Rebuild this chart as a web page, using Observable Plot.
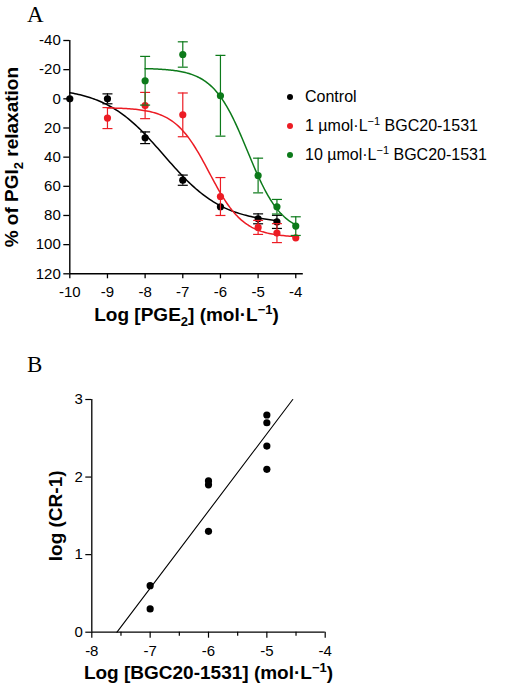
<!DOCTYPE html>
<html>
<head>
<meta charset="utf-8">
<script src="https://cdn.jsdelivr.net/npm/d3@7"></script>
<script src="https://cdn.jsdelivr.net/npm/@observablehq/plot@0.6"></script>
<style>
  html, body { margin: 0; padding: 0; background: #fff; }
  #wrap { position: relative; width: 505px; height: 690px; font-family: "Liberation Sans", Arial, sans-serif; }
  #wrap svg { display: block; }
  .panel-letter { position: absolute; font-family: "Liberation Serif", "Times New Roman", serif; font-size: 23px; line-height: 1; }
  #legend { position: absolute; left: 286px; top: 87px; font-size: 16px; color: #000; }
  #legend .row { position: absolute; left: 0; white-space: nowrap; height: 20px; line-height: 20px; }
  #legend .dot { display: inline-block; width: 6px; height: 6px; border-radius: 50%; position: absolute; left: 1px; top: 7px; }
  #legend .lab { position: absolute; left: 19px; top: 0; }
  #legend sup { font-size: 11px; line-height: 0; vertical-align: 6px; }
</style>
</head>
<body>
<div id="wrap">
  <div class="panel-letter" style="left:27px;top:3px;">A</div>
  <div class="panel-letter" style="left:27px;top:353px;">B</div>
  <div id="chartA"></div>
  <div id="chartB"></div>
  <div id="legend"></div>
</div>
<script>
// ---------- Panel A data ----------
const seriesNames = ["Control", "1 µmol·L⁻¹ BGC20-1531", "10 µmol·L⁻¹ BGC20-1531"];
const seriesColors = ["#000000", "#ec1c24", "#0c7a1a"];

const controlX   = [-10, -9, -8, -7, -6, -5, -4.5];
const controlY   = [0, 0, 26.7, 55.8, 74, 82.3, 84.4];
const controlErr = [0, 3.4, 4, 3.5, 0, 3.4, 4.5];

const bgc1X   = [-9, -8, -7, -6, -5, -4.5, -4];
const bgc1Y   = [13.2, 4.6, 11, 67, 88.2, 92.1, 95.3];
const bgc1Err = [7.2, 9, 15, 13, 4.8, 6.5, 0];

const bgc10X   = [-8, -7, -6, -5, -4.5, -4];
const bgc10Y   = [-12.4, -30.4, -2.1, 52.6, 74, 87.3];
const bgc10Err = [16.7, 8.7, 27.7, 11.9, 5, 6.4];

// fitted sigmoid parameters: [top, bottom, logEC50, hill, xStart, xEnd]
const controlFit = [-8, 85.5, -7.5, 0.55, -10, -4.5];
const bgc1Fit    = [6, 95, -6.3, 0.95, -9, -4];
const bgc10Fit   = [-21, 93, -5.28, 0.95, -8, -4];

const xTicksA = [-10, -9, -8, -7, -6, -5, -4];
const yTicksA = [-40, -20, 0, 20, 40, 60, 80, 100, 120];

// ---------- Panel B data ----------
const schildX = [-7, -7, -6, -6, -6, -5, -5, -5, -5];
const schildY = [0.6, 0.3, 1.95, 1.9, 1.3, 2.8, 2.7, 2.4, 2.1];
const xTicksB = [-8, -7, -6, -5, -4];
const xMinorB = [-7.5, -6.5, -5.5, -4.5];
const yTicksB = [0, 1, 2, 3];

// ---------- helpers ----------
const capSymbol = {
  draw(context, size) {
    const w = Math.sqrt(size / Math.PI);
    context.moveTo(-w, 0);
    context.lineTo(w, 0);
  }
};
function pts(xs, ys, es) { return xs.map((x, i) => ({x, y: ys[i], e: es ? es[i] : 0})); }
function curve(fit) {
  const [top, bottom, ec50, h, x0, x1] = fit;
  const n = 120;
  return d3.range(n + 1).map(i => {
    const x = x0 + (x1 - x0) * i / n;
    return {x, y: top + (bottom - top) / (1 + Math.pow(10, h * (ec50 - x)))};
  });
}

const groups = [
  {pts: pts(controlX, controlY, controlErr), fit: controlFit, color: seriesColors[0]},
  {pts: pts(bgc1X, bgc1Y, bgc1Err), fit: bgc1Fit, color: seriesColors[1]},
  {pts: pts(bgc10X, bgc10Y, bgc10Err), fit: bgc10Fit, color: seriesColors[2]}
];

const fontFam = '"Liberation Sans", Arial, sans-serif';
const tickFont = 15;

// ---------- Panel A ----------
const marksA = [
  Plot.ruleX([-10], {stroke: "#000", strokeWidth: 1.4}),
  Plot.ruleY([120], {stroke: "#000", strokeWidth: 1.4}),
  Plot.axisY({ticks: yTicksA, tickSize: 6, tickPadding: 3, label: null, fontSize: tickFont, tickFormat: d => String(d), strokeWidth: 1.3}),
  Plot.axisX({ticks: xTicksA, tickSize: 5, tickPadding: 8, label: null, fontSize: tickFont, tickFormat: d => String(d), strokeWidth: 1.3})
];
for (const g of groups) {
  const withErr = g.pts.filter(d => d.e > 0);
  marksA.push(
    Plot.ruleX(withErr, {x: "x", y1: d => d.y - d.e, y2: d => d.y + d.e, stroke: g.color, strokeWidth: 1.2}),
    Plot.dot(withErr, {x: "x", y: d => d.y - d.e, symbol: capSymbol, r: 5, stroke: g.color, strokeWidth: 1.2, fill: "none"}),
    Plot.dot(withErr, {x: "x", y: d => d.y + d.e, symbol: capSymbol, r: 5, stroke: g.color, strokeWidth: 1.2, fill: "none"}),
    Plot.line(curve(g.fit), {x: "x", y: "y", stroke: g.color, strokeWidth: 1.5, curve: "linear"}),
    Plot.dot(g.pts, {x: "x", y: "y", r: 3.6, fill: g.color, stroke: "none"})
  );
}
marksA.push(
  Plot.text(["YTITLE_A"], {text: d => d, frameAnchor: "left", textAnchor: "middle", dx: -58, rotate: -90, fontSize: 19, fontWeight: "bold", fill: "#000"}),
  Plot.text(["XTITLE_A"], {text: d => d, frameAnchor: "bottom", textAnchor: "middle", dy: 47, fontSize: 19, fontWeight: "bold", fill: "#000"})
);

const plotA = Plot.plot({
  width: 505, height: 345,
  marginLeft: 69.3, marginRight: 202.2, marginTop: 40, marginBottom: 71.7,
  x: {domain: [-10, -3.8]},
  y: {domain: [-40, 120], reverse: true},
  style: {fontFamily: fontFam, fontSize: tickFont + "px", color: "#000", background: "transparent", overflow: "visible"},
  marks: marksA
});

// ---------- Panel B ----------
const schild = schildX.map((x, i) => ({x, y: schildY[i]}));
const mx = d3.mean(schildX), my = d3.mean(schildY);
const slope = d3.sum(schild, d => (d.x - mx) * (d.y - my)) / d3.sum(schild, d => (d.x - mx) ** 2);
const icpt = my - slope * mx;
const fitLine = [0, 3].map(y => ({x: (y - icpt) / slope, y}));

const plotB = Plot.plot({
  width: 505, height: 345,
  marginLeft: 91.3, marginRight: 180.3, marginTop: 54, marginBottom: 58.3,
  x: {domain: [-8, -4]},
  y: {domain: [0, 3]},
  style: {fontFamily: fontFam, fontSize: tickFont + "px", color: "#000", background: "transparent", overflow: "visible"},
  marks: [
    Plot.ruleX([-8], {stroke: "#000", strokeWidth: 1.3}),
    Plot.ruleY([0], {stroke: "#000", strokeWidth: 1.3}),
    Plot.axisY({ticks: yTicksB, tickSize: 6, tickPadding: 3, label: null, fontSize: tickFont, tickFormat: d => String(d), strokeWidth: 1.2}),
    Plot.axisX({ticks: xTicksB, tickSize: 6, tickPadding: 7, label: null, fontSize: tickFont, tickFormat: d => String(d), strokeWidth: 1.2}),
    Plot.axisX({ticks: xMinorB, tickSize: 4, label: null, tickFormat: () => "", strokeWidth: 1.2}),
    Plot.line(fitLine, {x: "x", y: "y", stroke: "#000", strokeWidth: 1.1}),
    Plot.dot(schild, {x: "x", y: "y", r: 3.6, fill: "#000", stroke: "none"}),
    Plot.text(["YTITLE_B"], {text: d => d, frameAnchor: "left", textAnchor: "middle", dx: -36, rotate: -90, fontSize: 19, fontWeight: "bold", fill: "#000"}),
    Plot.text(["XTITLE_B"], {text: d => d, frameAnchor: "bottom", textAnchor: "middle", dy: 47, fontSize: 19, fontWeight: "bold", fill: "#000"})
  ]
});

// rich text titles with sub/superscripts
function rich(svg, key, html) {
  svg.querySelectorAll("text").forEach(t => { if (t.textContent === key) t.innerHTML = html; });
}
rich(plotA, "YTITLE_A", '% of PGI<tspan dy="5" font-size="13">2</tspan><tspan dy="-5"> relaxation</tspan>');
rich(plotA, "XTITLE_A", 'Log [PGE<tspan dy="5" font-size="13">2</tspan><tspan dy="-5">] (mol·L</tspan><tspan dy="-7" font-size="13">−1</tspan><tspan dy="7">)</tspan>');
rich(plotB, "YTITLE_B", 'log (CR-1)');
rich(plotB, "XTITLE_B", 'Log [BGC20-1531] (mol·L<tspan dy="-7" font-size="13">−1</tspan><tspan dy="7">)</tspan>');

document.getElementById("chartA").appendChild(plotA);
document.getElementById("chartB").appendChild(plotB);

// legend
const legendHtml = [
  'Control',
  '1 µmol·L<sup>−1</sup> BGC20-1531',
  '10 µmol·L<sup>−1</sup> BGC20-1531'
];
const legendTops = [0, 29, 58];
const legend = document.getElementById("legend");
seriesNames.forEach((name, i) => {
  const row = document.createElement("div");
  row.className = "row";
  row.style.top = legendTops[i] + "px";
  row.setAttribute("aria-label", name);
  row.innerHTML = `<span class="dot" style="background:${seriesColors[i]}"></span><span class="lab">${legendHtml[i]}</span>`;
  legend.appendChild(row);
});
</script>
</body>
</html>
